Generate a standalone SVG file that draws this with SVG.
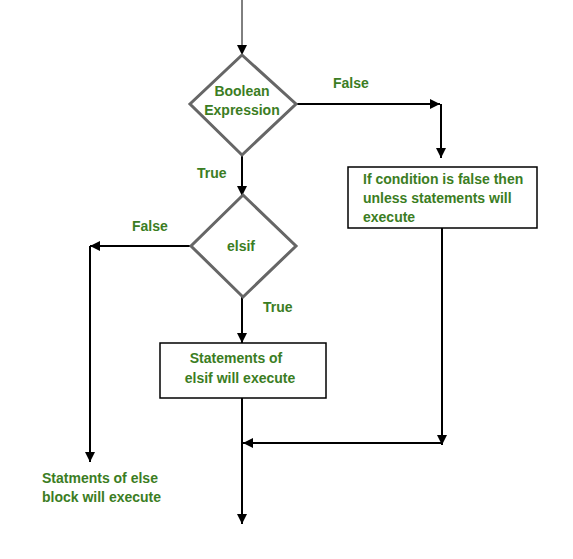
<svg xmlns="http://www.w3.org/2000/svg" width="573" height="559" viewBox="0 0 573 559">
<defs>
<marker id="ah" viewBox="0 0 10 10" refX="10" refY="5" markerWidth="11" markerHeight="10" markerUnits="userSpaceOnUse" orient="auto">
<path d="M0,0 L10,5 L0,10 Z" fill="#000"/>
</marker>
<style>
.lbl{font-family:"Liberation Sans",Arial,sans-serif;font-weight:bold;font-size:14px;fill:#3b7d23}
.dia{fill:#fff;stroke:#666;stroke-width:3}
.box{fill:#fff;stroke:#000;stroke-width:1.5}
.ln{fill:none;stroke:#000;stroke-width:2}
</style>
</defs>
<rect width="573" height="559" fill="#fff"/>
<g id="connectors">
<line x1="242" y1="0" x2="242" y2="55" stroke="#000" stroke-width="1" marker-end="url(#ah)"/>
<polyline class="ln" points="297,104 440,104" marker-end="url(#ah)"/>
<polyline class="ln" points="441,104 441,158" marker-end="url(#ah)"/>
<polyline class="ln" points="242,155 242,196" marker-end="url(#ah)"/>
<polyline class="ln" points="191,246 90,246" marker-end="url(#ah)"/>
<polyline class="ln" points="90,246 90,462" marker-end="url(#ah)"/>
<polyline class="ln" points="242,297 242,343" marker-end="url(#ah)"/>
<polyline class="ln" points="242,398 242,524" marker-end="url(#ah)"/>
<polyline class="ln" points="442,228 442,445" marker-end="url(#ah)"/>
<polyline class="ln" points="442,443 243,443" marker-end="url(#ah)"/>
<text class="lbl" x="333" y="88">False</text>
<text class="lbl" x="197" y="178">True</text>
<text class="lbl" x="132" y="231">False</text>
<text class="lbl" x="263" y="312">True</text>
</g>
<g id="boolean">
<polygon class="dia" points="242,55 296,104 242,155 190,104"/>
<text class="lbl" x="242" y="96" text-anchor="middle">Boolean</text>
<text class="lbl" x="242" y="115" text-anchor="middle">Expression</text>
</g>
<g id="unless">
<rect class="box" x="348" y="167" width="189" height="61"/>
<text class="lbl" x="363" y="184">If condition is false then</text>
<text class="lbl" x="363" y="203">unless statements will</text>
<text class="lbl" x="363" y="222">execute</text>
</g>
<g id="elsif">
<polygon class="dia" points="243,195 296,246 243,297 191,246"/>
<text class="lbl" x="241" y="251" text-anchor="middle">elsif</text>
</g>
<g id="elsifstmt">
<rect class="box" x="160" y="343" width="166" height="55"/>
<text class="lbl" x="236" y="363" text-anchor="middle">Statements of</text>
<text class="lbl" x="240" y="383" text-anchor="middle">elsif will execute</text>
</g>
<g id="elsestmt">
<text class="lbl" x="42" y="483">Statments of else</text>
<text class="lbl" x="42" y="502">block will execute</text>
</g>
</svg>
